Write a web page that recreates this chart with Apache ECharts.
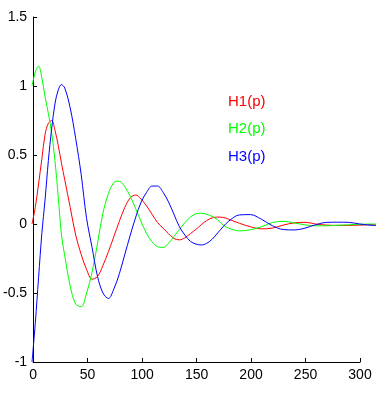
<!DOCTYPE html>
<html>
<head>
<meta charset="utf-8">
<script src="https://cdn.jsdelivr.net/npm/echarts@6/dist/echarts.min.js"></script>
<style>
    html, body { margin: 0; padding: 0; background: #fff; }
    #chart { width: 376px; height: 394px; }
</style>
</head>
<body>
<div id="chart"></div>
<script>
// sample positions (x) shared by the three curves
var xs = [0, 3, 6, 9, 12, 15, 18, 21, 24, 27, 30, 35, 40, 45, 50, 55, 60, 65, 70, 75,
    80, 85, 90, 95, 100, 105, 110, 115, 120, 125, 130, 135, 140, 145, 150, 155, 160, 165, 170, 175,
    180, 190, 200, 210, 220, 230, 240, 250, 260, 270, 280, 290, 300, 315];

var h1 = [0, 0.12, 0.29, 0.47, 0.65, 0.73, 0.75, 0.68, 0.57, 0.44, 0.32, 0.12, -0.08, -0.22, -0.33, -0.40, -0.38, -0.30, -0.20, -0.09,
    0.02, 0.12, 0.19, 0.21, 0.18, 0.13, 0.07, 0.01, -0.03, -0.07, -0.105, -0.115, -0.10, -0.07, -0.04, -0.005, 0.025, 0.045, 0.05, 0.048,
    0.035, 0.005, -0.02, -0.035, -0.03, -0.008, 0.008, 0.012, 0.0, -0.008, -0.01, -0.01, -0.008, -0.005];

var h2 = [1.0, 1.10, 1.145, 1.06, 0.92, 0.80, 0.66, 0.46, 0.20, -0.08, -0.23, -0.45, -0.58, -0.60, -0.50, -0.35, -0.14, 0.08, 0.22, 0.30,
    0.31, 0.27, 0.20, 0.11, 0.015, -0.07, -0.13, -0.165, -0.17, -0.14, -0.09, -0.04, 0.01, 0.05, 0.074, 0.078, 0.07, 0.055, 0.03, -0.007,
    -0.03, -0.05, -0.042, -0.02, 0.01, 0.02, 0.008, -0.006, -0.013, -0.013, -0.009, -0.006, -0.002, 0.0];

var h3 = [-1.0, -0.72, -0.39, -0.07, 0.18, 0.46, 0.69, 0.87, 0.97, 1.01, 0.985, 0.84, 0.62, 0.36, 0.04, -0.17, -0.38, -0.50, -0.54, -0.47,
    -0.36, -0.22, -0.08, 0.05, 0.16, 0.23, 0.275, 0.275, 0.23, 0.16, 0.07, -0.02, -0.08, -0.125, -0.145, -0.152, -0.14, -0.11, -0.065, -0.02,
    0.02, 0.066, 0.068, 0.035, -0.012, -0.04, -0.043, -0.03, -0.005, 0.012, 0.013, 0.012, 0.0, -0.012];

var names = ['H1(p)', 'H2(p)', 'H3(p)'];
var colors = ['#ff0000', '#00ff00', '#0000ff'];

function pairs(ys) {
    return xs.map(function (x, i) { return [x, ys[i]]; });
}

var myChart = echarts.init(document.getElementById('chart'));
var axisFont = { fontFamily: 'Liberation Sans, Arial, sans-serif', fontSize: 14, color: '#000' };

var option = {
    animation: false,
    backgroundColor: '#fff',
    // grid 0 holds the curves (data runs past 300), grid 1 only draws the axes (0..300)
    grid: [
        { left: 32, right: 0, top: 17, bottom: 32, containLabel: false },
        { left: 32, right: 16, top: 17, bottom: 32, containLabel: false }
    ],
    legend: {
        orient: 'vertical',
        left: 218,
        top: 89,
        itemWidth: 0,
        itemHeight: 0,
        itemGap: 12.5,
        selectedMode: false,
        data: names.map(function (n, i) {
            return { name: n, icon: 'rect', textStyle: { color: colors[i] } };
        }),
        textStyle: { fontFamily: 'Liberation Sans, Arial, sans-serif', fontSize: 15 }
    },
    xAxis: [
        {
            gridIndex: 0, type: 'value', min: 0, max: 315, show: false
        },
        {
            gridIndex: 1,
            type: 'value',
            min: 0,
            max: 300,
            interval: 50,
            splitLine: { show: false },
            axisLine: { onZero: false, lineStyle: { color: '#000', width: 1 } },
            axisTick: { inside: true, length: 4, lineStyle: { color: '#000' } },
            axisLabel: Object.assign({ margin: 6 }, axisFont)
        }
    ],
    yAxis: [
        {
            gridIndex: 0, type: 'value', min: -1, max: 1.5, show: false
        },
        {
            gridIndex: 1,
            type: 'value',
            min: -1,
            max: 1.5,
            interval: 0.5,
            splitLine: { show: false },
            axisLine: { show: true, onZero: false, lineStyle: { color: '#000', width: 1 } },
            axisTick: { show: true, inside: true, length: 4, lineStyle: { color: '#000' } },
            axisLabel: Object.assign({ margin: 6 }, axisFont)
        }
    ],
    series: [h1, h2, h3].map(function (ys, i) {
        return {
            name: names[i],
            type: 'line',
            xAxisIndex: 0,
            yAxisIndex: 0,
            data: pairs(ys),
            smooth: 0.35,
            showSymbol: false,
            symbol: 'none',
            lineStyle: { color: colors[i], width: 1 },
            itemStyle: { color: colors[i] }
        };
    })
};
myChart.setOption(option);
</script>
</body>
</html>
